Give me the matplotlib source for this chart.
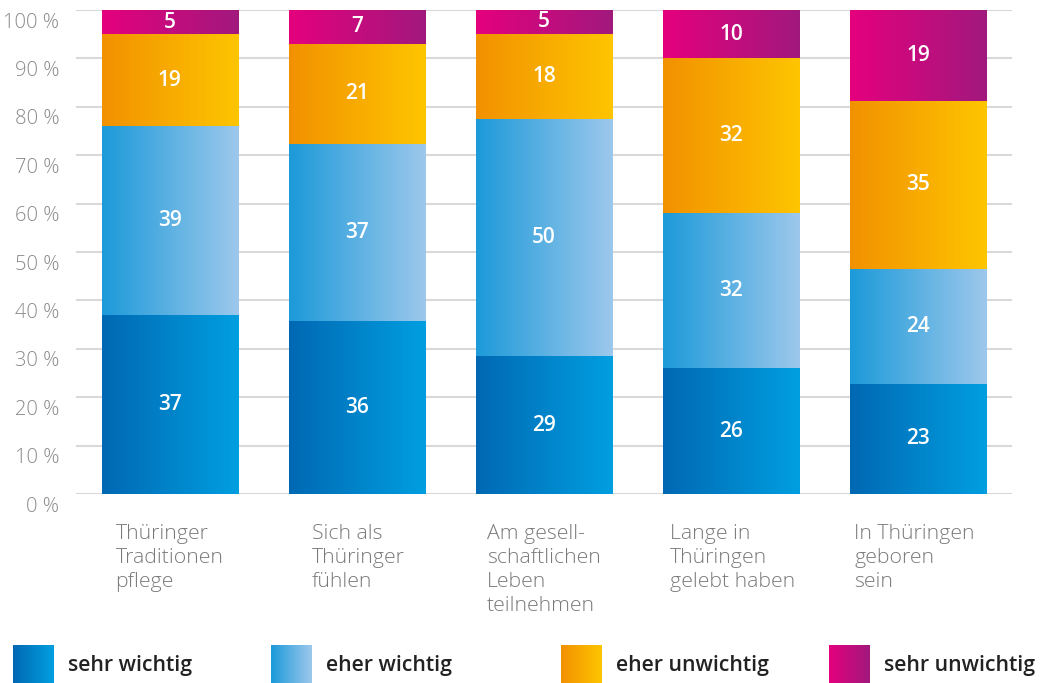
import numpy as np
import matplotlib
matplotlib.use("Agg")
import matplotlib.pyplot as plt
import matplotlib.transforms as mtransforms
from matplotlib.colors import LinearSegmentedColormap

plt.rcParams['font.family'] = ['Open Sans', 'DejaVu Sans']

# === Données ===
categories = ["Thüringer\nTraditionen\npflege", "Sich als\nThüringer\nfühlen",
              "Am gesell-\nschaftlichen\nLeben\nteilnehmen", "Lange in\nThüringen\ngelebt haben",
              "In Thüringen\ngeboren\nsein"]
sehr_wichtig = [37, 36, 29, 26, 23]
eher_wichtig = [39, 37, 50, 32, 24]
eher_unwichtig = [19, 21, 18, 32, 35]
sehr_unwichtig = [5, 7, 5, 10, 19]
series_names = ["sehr wichtig", "eher wichtig", "eher unwichtig", "sehr unwichtig"]
y_ticks = [0, 10, 20, 30, 40, 50, 60, 70, 80, 90, 100]

# Dégradés horizontaux (gauche -> droite)
gradients = [("#0068b3", "#009fe0"),
             ("#1c9ad9", "#9dc8ec"),
             ("#f29100", "#fec500"),
             ("#e5007e", "#a1197d")]
cmaps = [LinearSegmentedColormap.from_list(f"g{i}", c) for i, c in enumerate(gradients)]
grad = np.linspace(0, 1, 256).reshape(1, -1)

series = np.array([sehr_wichtig, eher_wichtig, eher_unwichtig, sehr_unwichtig], dtype=float)
totals = series.sum(axis=0)
shares = series / totals * 100  # normalisé à 100 %

W, H = 1046, 683
fig = plt.figure(figsize=(W / 100, H / 100), dpi=100)
ax = fig.add_axes([76 / W, (H - 494) / H, (1012 - 76) / W, (494 - 10) / H])

x = np.arange(len(categories))
width = 0.727
px = 1 / 187  # un pixel en unités de données (axe x)
bottom = np.zeros(len(categories))
for k in range(4):
    bars = ax.bar(x, shares[k], width, bottom=bottom, color="none", edgecolor="none", zorder=3)
    for i, b in enumerate(bars):
        x0, y0 = b.get_x(), b.get_y()
        ax.imshow(grad, cmap=cmaps[k], aspect="auto", zorder=3,
                  extent=[x0, x0 + b.get_width(), y0, y0 + b.get_height()])
        ax.text(x[i], y0 + b.get_height() / 2, f"{int(series[k][i])}", color="white",
                ha="center", va="center", fontsize=15, fontweight="semibold", zorder=4)
    bottom += shares[k]

ax.set_xlim(-0.5, len(categories) - 0.5)
ax.set_ylim(0, 100)
ax.set_yticks(y_ticks)
ax.set_yticklabels([f"{v} %" for v in y_ticks], color="#8a8a8a", fontsize=14.5, fontweight="light")
ax.tick_params(axis="y", length=0, pad=12)
shift = mtransforms.ScaledTranslation(0, -10 / 100, fig.dpi_scale_trans)
for lab in ax.get_yticklabels():
    lab.set_transform(lab.get_transform() + shift)
ax.set_xticks([])
ax.yaxis.grid(True, color="#d9d9d9", linewidth=1.5, zorder=0)
ax.set_axisbelow(True)
for s in ax.spines.values():
    s.set_visible(False)

label_offsets = [14, 23, 11, 7, 4]  # décalage en px depuis le bord gauche de la barre
for i, lab in enumerate(categories):
    ax.annotate(lab, xy=(x[i] - width / 2 + label_offsets[i] * px, 0), xycoords=("data", "axes fraction"),
                xytext=(0, -21.5), textcoords="offset points", ha="left", va="top",
                color="#7a7a7a", fontsize=15.3, fontweight="light", linespacing=1.28)

# Légende
leg_x = [13, 271, 561, 829]
for k, name in enumerate(series_names):
    lax = fig.add_axes([leg_x[k] / W, 0, 41 / W, 38 / H])
    lax.imshow(grad, cmap=cmaps[k], aspect="auto")
    lax.axis("off")
    fig.text((leg_x[k] + 55) / W, (H - 665) / H, name, ha="left", va="center",
             color="#222222", fontsize=15.3, fontweight="semibold")

fig.savefig("out.png", dpi=100)
